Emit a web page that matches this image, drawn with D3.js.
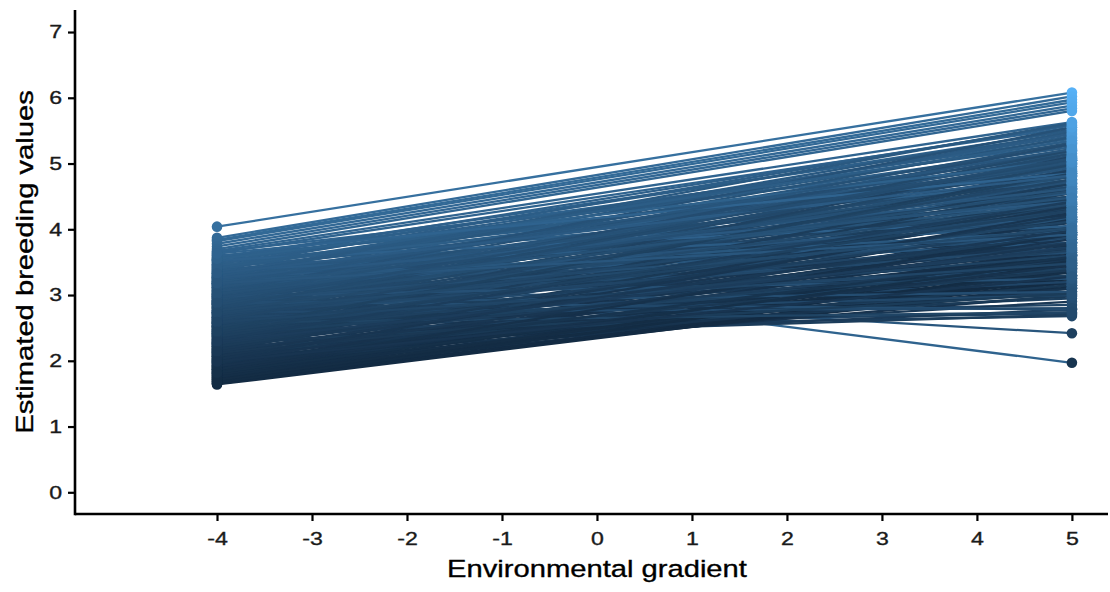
<!DOCTYPE html>
<html>
<head>
<meta charset="utf-8">
<script src="https://cdn.jsdelivr.net/npm/d3@7"></script>
<style>
  html, body { margin: 0; padding: 0; background: #ffffff; }
  svg { display: block; font-family: "Liberation Sans", Arial, sans-serif; }
</style>
</head>
<body>
<svg id="chart" width="1110" height="592"></svg>
<script>
// Environmental gradient values at which each reaction norm is evaluated
const envGradient = [-4, 5];

// Estimated breeding value of each individual at the low end (x = -4)
const breedingAtLow = [
  4.04, 3.87, 3.84, 3.82, 3.78, 3.74, 3.70, 3.67, 3.66, 3.64,
  3.61, 3.60, 3.58, 3.57, 3.55, 3.54, 3.52, 3.51, 3.50, 3.48,
  3.47, 3.46, 3.44, 3.43, 3.42, 3.40, 3.39, 3.38, 3.36, 3.35,
  3.34, 3.32, 3.31, 3.30, 3.29, 3.28, 3.26, 3.25, 3.24, 3.22,
  3.21, 3.20, 3.18, 3.18, 3.17, 3.16, 3.14, 3.13, 3.12, 3.10,
  3.09, 3.08, 3.06, 3.05, 3.04, 3.02, 3.01, 3.00, 2.99, 2.98,
  2.96, 2.95, 2.94, 2.92, 2.91, 2.90, 2.88, 2.87, 2.86, 2.84,
  2.83, 2.82, 2.80, 2.79, 2.78, 2.76, 2.75, 2.74, 2.72, 2.71,
  2.70, 2.68, 2.67, 2.66, 2.64, 2.63, 2.62, 2.60, 2.59, 2.58,
  2.56, 2.55, 2.54, 2.53, 2.52, 2.51, 2.50, 2.48, 2.47, 2.46,
  2.45, 2.43, 2.42, 2.41, 2.40, 2.38, 2.37, 2.36, 2.34, 2.33,
  2.32, 2.30, 2.29, 2.28, 2.26, 2.25, 2.24, 2.22, 2.21, 2.20,
  2.18, 2.17, 2.16, 2.14, 2.13, 2.12, 2.10, 2.09, 2.08, 2.06,
  2.05, 2.04, 2.02, 2.01, 2.00, 1.98, 1.97, 1.96, 1.94, 1.93,
  1.92, 1.90, 1.89, 1.88, 1.86, 1.85, 1.84, 1.82, 1.81, 1.80,
  1.78, 1.77, 1.76, 1.74, 1.73, 1.72, 1.70, 1.69, 1.68, 1.66,
  1.65, 1.64,
  3.53, 3.45, 3.37, 3.33, 3.27, 3.23, 3.19, 3.15, 3.11, 3.07,
  3.03, 2.97, 2.93, 2.89, 2.85, 2.81, 2.77, 2.73, 2.69, 2.65,
  2.61, 2.57, 2.49, 2.44, 2.39, 2.35, 2.31, 2.27, 2.23, 2.19,
  2.15, 2.11, 2.07, 2.03, 1.99, 1.95, 1.91, 1.87, 1.83, 1.79,
  1.75, 1.71, 1.67, 2.90, 2.74, 2.58, 3.28, 3.41, 3.55, 3.63,
  2.98, 2.87, 2.66, 2.52, 2.40, 2.26,
  3.26, 3.21, 3.16, 3.12, 3.06, 3.01, 2.96, 2.91, 2.86, 2.81,
  2.76, 2.71, 2.66, 2.62, 2.57, 2.52, 2.47, 2.42, 2.37, 2.32,
  2.27, 2.22, 2.17, 2.12, 2.07, 2.02, 1.97, 1.92, 1.87, 1.82,
  3.33, 3.18, 3.02, 2.88, 2.73, 2.59, 2.44, 2.29, 2.14, 1.99
];

// Estimated breeding value of the same individuals at the high end (x = 5)
const breedingAtHigh = [
  6.08, 6.02, 5.97, 5.93, 5.88, 5.84, 5.80, 5.63, 5.10, 5.55,
  1.97, 4.70, 5.45, 5.30, 4.95, 5.58, 4.40, 5.20, 5.50, 4.85,
  5.38, 3.90, 5.05, 5.60, 4.60, 5.25, 4.20, 5.42, 4.98, 5.15,
  4.50, 5.35, 3.75, 4.88, 5.52, 4.65, 5.10, 4.30, 5.00, 5.48,
  4.75, 3.60, 2.42, 5.28, 4.45, 4.92, 5.18, 4.10, 4.80, 5.40,
  4.55, 3.95, 5.05, 4.68, 4.25, 5.32, 4.85, 3.70, 4.60, 5.12,
  4.35, 4.95, 3.85, 5.22, 4.50, 4.72, 4.05, 5.00, 4.40, 3.50,
  4.82, 4.62, 5.15, 4.18, 4.90, 3.95, 4.55, 4.75, 3.30, 4.30,
  5.05, 4.48, 3.80, 4.65, 4.12, 4.88, 2.85, 4.38, 4.58, 3.65,
  4.80, 4.22, 3.45, 2.72, 4.50, 4.02, 4.70, 3.10, 4.32, 2.68,
  4.60, 3.90, 4.15, 3.55, 4.45, 2.95, 4.25, 3.78, 4.55, 3.35,
  4.05, 2.70, 3.95, 4.38, 3.60, 4.18, 3.20, 4.48, 2.78, 3.85,
  4.10, 3.45, 4.30, 3.70, 2.90, 4.00, 3.55, 4.22, 3.30, 3.88,
  4.12, 3.05, 3.65, 3.95, 3.40, 4.05, 3.18, 3.75, 3.55, 3.90,
  3.00, 3.62, 3.35, 3.80, 3.12, 3.48, 3.70, 3.25, 3.58, 3.10,
  3.42, 3.68, 3.15, 3.30, 3.52, 3.15, 3.38, 3.20, 3.45, 3.25,
  3.28, 3.22,
  4.15, 4.75, 4.05, 5.45, 3.85, 4.55, 5.08, 3.80, 4.95, 4.40,
  5.55, 4.15, 4.80, 3.65, 5.30, 4.25, 3.40, 5.20, 3.95, 4.98,
  3.20, 4.35, 5.10, 3.30, 4.90, 3.05, 4.70, 3.80, 4.62, 2.98,
  4.40, 3.15, 4.35, 3.50, 3.85, 3.10, 4.15, 3.60, 3.95, 3.35,
  3.62, 3.48, 3.40, 2.78, 2.80, 2.74, 5.62, 5.35, 5.05, 4.85,
  3.25, 3.05, 3.00, 3.60, 3.40, 3.02,
  4.42, 3.98, 5.22, 4.62, 4.18, 5.02, 4.72, 3.92, 4.58, 5.06,
  4.38, 3.72, 4.28, 4.76, 3.88, 4.12, 4.85, 3.68, 4.02, 4.42,
  3.52, 3.92, 4.20, 3.38, 3.78, 4.25, 3.58, 3.45, 3.92, 3.52,
  4.82, 3.92, 4.48, 5.08, 4.02, 3.48, 4.28, 3.72, 3.98, 3.28
];

// Axis tick values
const xTicks = [-4, -3, -2, -1, 0, 1, 2, 3, 4, 5];
const yTicks = [0, 1, 2, 3, 4, 5, 6, 7];

const xTitle = "Environmental gradient";
const yTitle = "Estimated breeding values";

const svg = d3.select("#chart");
const panel = { left: 75, right: 1108, top: 10, bottom: 514 };

const x = d3.scaleLinear().domain([-5.495, 5.38]).range([panel.left, panel.right]);
const y = d3.scaleLinear().domain([-0.33, 7.335]).range([panel.bottom, panel.top]);

const allValues = breedingAtLow.concat(breedingAtHigh);
const colour = d3.scaleLinear()
  .domain(d3.extent(allValues))
  .range(["#132B43", "#56B1F7"])
  .interpolate(d3.interpolateLab);

const individuals = breedingAtLow.map((v, i) => ({
  id: i,
  values: [
    { env: envGradient[0], bv: v },
    { env: envGradient[1], bv: breedingAtHigh[i] }
  ]
}));

const line = d3.line().x(d => x(d.env)).y(d => y(d.bv));

// reaction norms, each coloured by its value at the first point
svg.append("g").selectAll("path")
  .data(individuals)
  .join("path")
  .attr("d", d => line(d.values))
  .attr("fill", "none")
  .attr("stroke", d => colour(d.values[0].bv))
  .attr("stroke-width", 2.3);

// end points coloured by their own value
const pts = individuals.flatMap(d => d.values);
svg.append("g").selectAll("circle")
  .data(pts)
  .join("circle")
  .attr("cx", d => x(d.env))
  .attr("cy", d => y(d.bv))
  .attr("r", 5.3)
  .attr("fill", d => colour(d.bv));

// glyphs in this chart are set wide along the reading direction
function widen(sel, k) {
  sel.each(function () {
    const len = this.getComputedTextLength();
    d3.select(this).attr("textLength", len * k).attr("lengthAdjust", "spacingAndGlyphs");
  });
}

// axes
const xAxis = svg.append("g")
  .attr("transform", `translate(0,${panel.bottom})`)
  .call(d3.axisBottom(x).tickValues(xTicks).tickSize(7).tickPadding(11).tickFormat(d => String(d)));
const yAxis = svg.append("g")
  .attr("transform", `translate(${panel.left},0)`)
  .call(d3.axisLeft(y).tickValues(yTicks).tickSize(7).tickPadding(6).tickFormat(d => String(d)));

[xAxis, yAxis].forEach(g => {
  g.select(".domain").remove();
  g.selectAll(".tick line").attr("stroke", "#000").attr("stroke-width", 2.2);
  g.selectAll(".tick text").attr("fill", "#1a1a1a").attr("font-size", 18.5)
    .attr("stroke", "#1a1a1a").attr("stroke-width", 0.35)
    .attr("font-family", "'Liberation Sans', Arial, sans-serif");
  widen(g.selectAll(".tick text"), 1.25);
});

// axis lines
svg.append("line")
  .attr("x1", panel.left).attr("x2", panel.right)
  .attr("y1", panel.bottom).attr("y2", panel.bottom)
  .attr("stroke", "#000").attr("stroke-width", 2.6);
svg.append("line")
  .attr("x1", panel.left).attr("x2", panel.left)
  .attr("y1", panel.top).attr("y2", panel.bottom + 1.3)
  .attr("stroke", "#000").attr("stroke-width", 2.6);

// axis titles
svg.append("text")
  .attr("x", 597)
  .attr("y", 577)
  .attr("text-anchor", "middle")
  .attr("font-size", 24.5)
  .attr("fill", "#000")
  .attr("stroke", "#000").attr("stroke-width", 0.35)
  .text(xTitle)
  .call(widen, 1.19);

svg.append("text")
  .attr("transform", `translate(33,${(panel.top + panel.bottom) / 2}) rotate(-90)`)
  .attr("text-anchor", "middle")
  .attr("font-size", 24.5)
  .attr("fill", "#000")
  .attr("stroke", "#000").attr("stroke-width", 0.35)
  .text(yTitle)
  .call(widen, 1.19);
</script>
</body>
</html>
